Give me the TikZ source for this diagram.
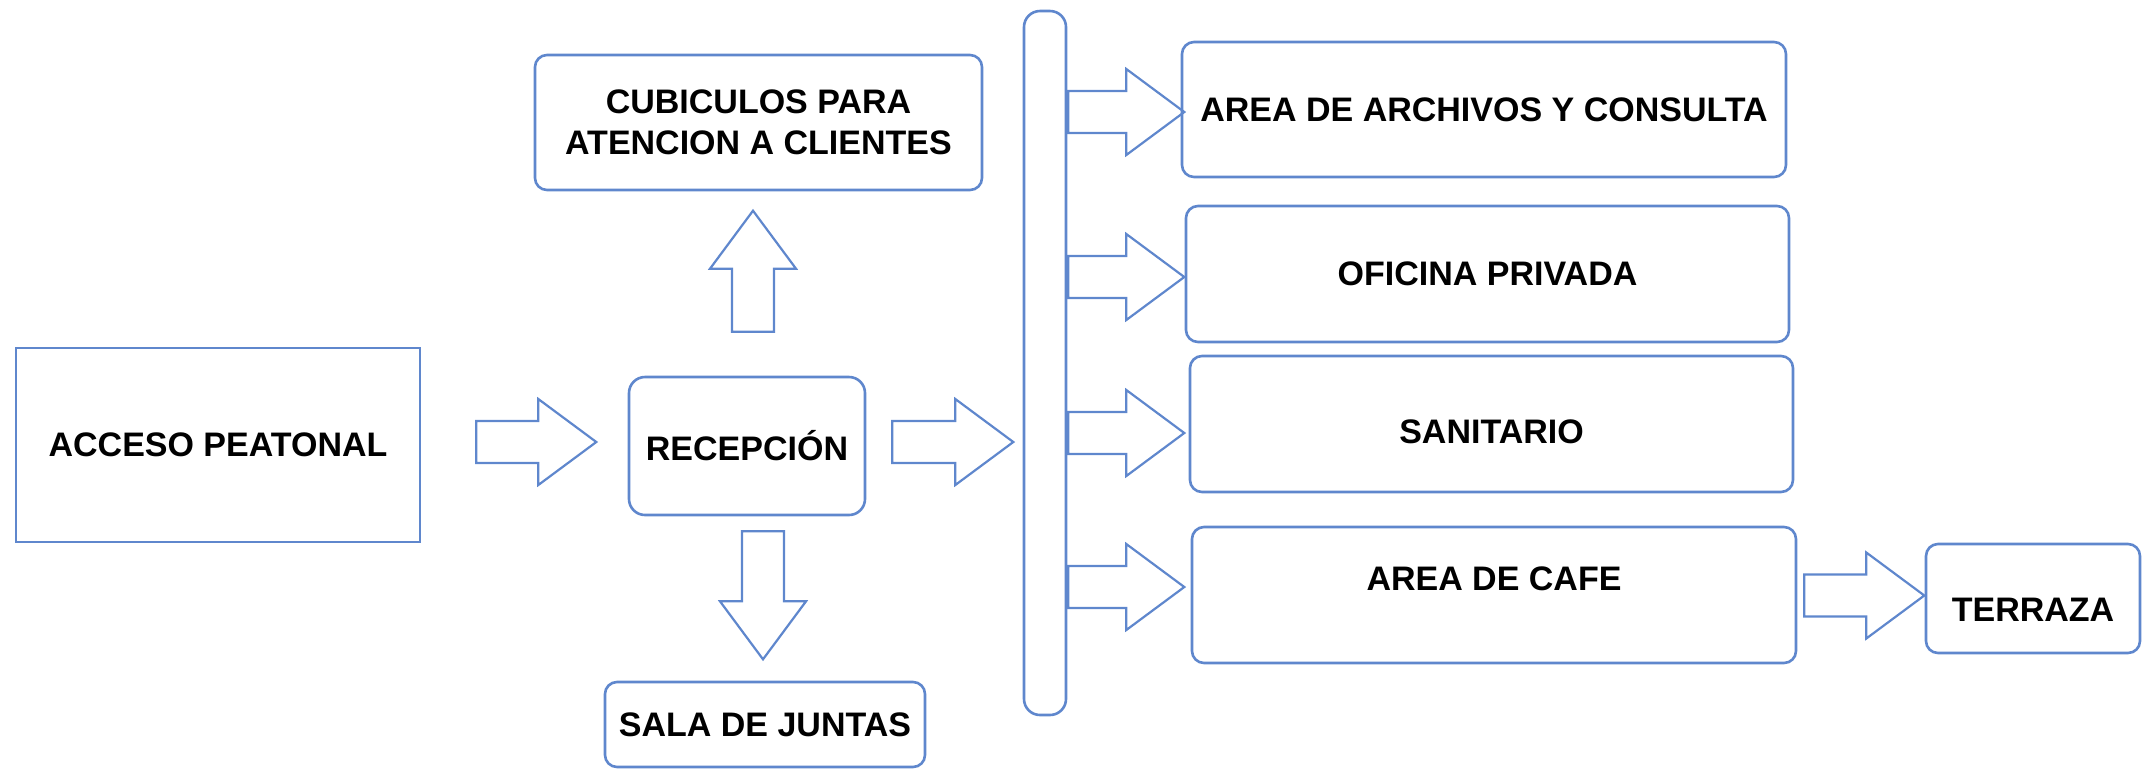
\documentclass[tikz,border=0pt]{standalone}
\usepackage{fontspec}
\setmainfont{Liberation Sans}
\usetikzlibrary{calc}

\definecolor{azul}{RGB}{95,135,205}

\tikzset{
  caja/.style={draw=azul, line width=1.3pt, fill=white, rounded corners=6pt,
    align=center, inner sep=0pt,
    font=\fontsize{17}{20.5}\selectfont\bfseries},
  flechalinea/.style={draw=azul, line width=1.1pt, line join=miter},
  pics/flecha/.style={code={
    \draw[flechalinea] (0,-21) -- (#1-58,-21) -- (#1-58,-43) -- (#1,0)
      -- (#1-58,43) -- (#1-58,21) -- (0,21) -- cycle;
  }},
}

\begin{document}
\begin{tikzpicture}[x=0.5pt, y=-0.5pt]
  \useasboundingbox (0,0) rectangle (2148,768);
  % bloques
  \node[caja, rounded corners=0pt, minimum width=202pt, minimum height=97pt] (acceso) at (218,445) {ACCESO PEATONAL};
  \node[caja, rounded corners=8pt, minimum width=118pt, minimum height=69pt] (recep) at (747,446) {RECEPCIÓN};
  \node[caja, minimum width=223.5pt, minimum height=67.5pt] (cubic) at (758.5,122.5) {CUBICULOS PARA\\ATENCION A CLIENTES};
  \node[caja, minimum width=160pt, minimum height=42.5pt] (sala) at (765,724.5) {SALA DE JUNTAS};
  \node[caja, rounded corners=8pt, minimum width=21pt, minimum height=352pt] (bar) at (1045,363) {};
  \node[caja, minimum width=302pt, minimum height=67.5pt] (archivos) at (1484,109.5) {AREA DE ARCHIVOS Y CONSULTA};
  \node[caja, minimum width=301.5pt, minimum height=68pt] (oficina) at (1487.5,274) {OFICINA PRIVADA};
  \node[caja, minimum width=301.5pt, minimum height=68pt, text height=19.8pt] (sanitario) at (1491.5,424) {SANITARIO};
  \node[caja, minimum width=302pt, minimum height=68pt, text depth=16pt] (cafe) at (1494,595) {AREA DE CAFE};
  \node[caja, minimum width=107pt, minimum height=54.5pt, text height=22.8pt] (terraza) at (2033,598.5) {TERRAZA};

  % flechas
  \pic at ($(acceso.east)+(55,-3)$) {flecha=120};
  \pic at ($(recep.east)+(26,-4)$) {flecha=121};
  \pic[rotate=90] at ($(recep.north)+(6,-44)$) {flecha=121};
  \pic[rotate=-90] at ($(recep.south)+(16,15)$) {flecha=128};
  \foreach \dest/\dy in {archivos/2.5, oficina/3, sanitario/9, cafe/-8}
    \pic at ($(bar.east |- \dest.west)+(1,\dy)$) {flecha=116};
  \pic at ($(cafe.east)+(7,0.5)$) {flecha=120};
\end{tikzpicture}
\end{document}
